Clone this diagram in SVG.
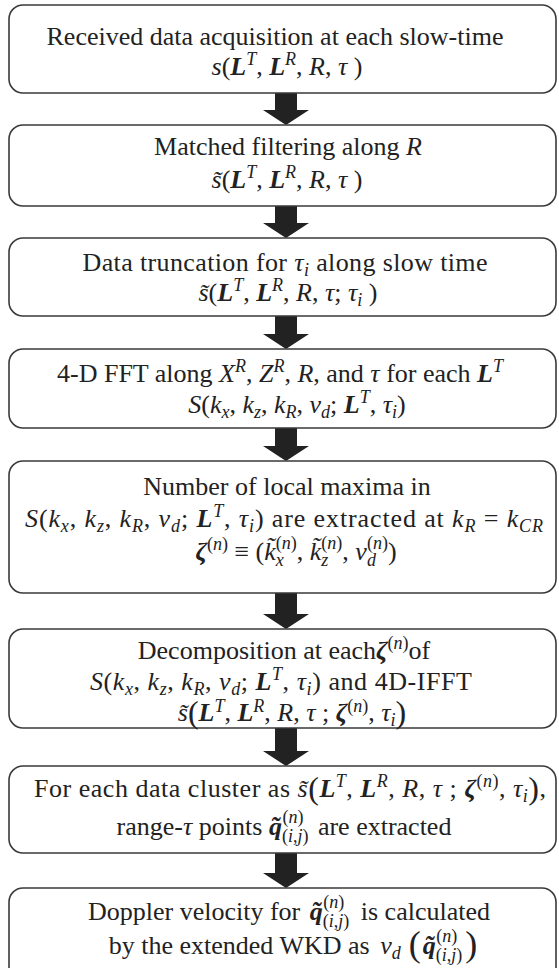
<svg xmlns="http://www.w3.org/2000/svg" width="559" height="968" viewBox="0 0 559 968">
<style>
.box{fill:#fff;stroke:#3a3a3a;stroke-width:1.6}
.t{font-family:"Liberation Serif","Times New Roman",Times,"DejaVu Serif",serif;font-size:26px;fill:#222;text-anchor:middle}
.i{font-style:italic}
.b{font-style:italic;font-weight:bold}
.s{font-size:18px;font-style:italic}
.sn{font-size:18px}
.p{font-size:32px}
.pp{font-size:36px}
.arr{fill:#222}
</style>
<rect width="559" height="968" fill="#fff"/>
<g id="connectors">
<polygon class="arr" points="275,93 297,93 297,110 309,110 286,125 263,110 275,110"/>
<polygon class="arr" points="275,206 297,206 297,223 309,223 286,238 263,223 275,223"/>
<polygon class="arr" points="275,316 297,316 297,334 309,334 286,349 263,334 275,334"/>
<polygon class="arr" points="275,428 297,428 297,446 309,446 286,461 263,446 275,446"/>
<polygon class="arr" points="275,593 297,593 297,614 309,614 286,629 263,614 275,614"/>
<polygon class="arr" points="275,728 297,728 297,751 309,751 286,766 263,751 275,751"/>
<polygon class="arr" points="275,853 297,853 297,873 309,873 286,888 263,873 275,873"/>
</g>
<g font-family="'Liberation Serif','Times New Roman',Times,serif">
<g id="n1">
<rect class="box" x="9" y="5" width="547" height="88" rx="14"/>
<text class="t" x="275" y="45">Received data acquisition at each slow-time</text>
<text class="t" x="287" y="75"><tspan class="i">s</tspan>(<tspan class="b">L</tspan><tspan class="s" dy="-10">T</tspan><tspan dy="10">, </tspan><tspan class="b">L</tspan><tspan class="s" dy="-10">R</tspan><tspan dy="10">, </tspan><tspan class="i">R</tspan>, <tspan class="i">τ</tspan> )</text>
</g>
<g id="n2">
<rect class="box" x="9" y="125" width="547" height="81" rx="14"/>
<text class="t" x="288" y="155">Matched filtering along <tspan class="i">R</tspan></text>
<text class="t" x="287" y="188"><tspan class="i">s̃</tspan>(<tspan class="b">L</tspan><tspan class="s" dy="-10">T</tspan><tspan dy="10">, </tspan><tspan class="b">L</tspan><tspan class="s" dy="-10">R</tspan><tspan dy="10">, </tspan><tspan class="i">R</tspan>, <tspan class="i">τ</tspan> )</text>
</g>
<g id="n3">
<rect class="box" x="9" y="238" width="547" height="78" rx="14"/>
<text class="t" x="285" y="271" textLength="405" lengthAdjust="spacing">Data truncation for <tspan class="i">τ</tspan><tspan class="s" dy="5">i</tspan><tspan dy="-5">  along slow time</tspan></text>
<text class="t" x="288" y="301"><tspan class="i">s̃</tspan>(<tspan class="b">L</tspan><tspan class="s" dy="-10">T</tspan><tspan dy="10">, </tspan><tspan class="b">L</tspan><tspan class="s" dy="-10">R</tspan><tspan dy="10">, </tspan><tspan class="i">R</tspan>, <tspan class="i">τ</tspan>; <tspan class="i">τ</tspan><tspan class="s" dy="5">i</tspan><tspan dy="-5"> )</tspan></text>
</g>
<g id="n4">
<rect class="box" x="9" y="349" width="547" height="79" rx="14"/>
<text class="t" x="280" y="382">4-D FFT along <tspan class="i">X</tspan><tspan class="s" dy="-10">R</tspan><tspan dy="10">, </tspan><tspan class="i">Z</tspan><tspan class="s" dy="-10">R</tspan><tspan dy="10">, </tspan><tspan class="i">R</tspan>, and <tspan class="i">τ</tspan> for each <tspan class="b">L</tspan><tspan class="s" dy="-10">T</tspan></text>
<text class="t" x="297" y="413"><tspan class="i">S</tspan>(<tspan class="i">k</tspan><tspan class="s" dy="5">x</tspan><tspan dy="-5">, </tspan><tspan class="i">k</tspan><tspan class="s" dy="5">z</tspan><tspan dy="-5">, </tspan><tspan class="i">k</tspan><tspan class="s" dy="5">R</tspan><tspan dy="-5">, </tspan><tspan class="i">v</tspan><tspan class="s" dy="5">d</tspan><tspan dy="-5">; </tspan><tspan class="b">L</tspan><tspan class="s" dy="-10">T</tspan><tspan dy="10">, </tspan><tspan class="i">τ</tspan><tspan class="s" dy="5">i</tspan><tspan dy="-5">)</tspan></text>
</g>
<g id="n5">
<rect class="box" x="9" y="461" width="547" height="132" rx="14"/>
<text class="t" x="287" y="495">Number of local maxima in</text>
<text class="t" x="284" y="527" textLength="518" lengthAdjust="spacing"><tspan class="i">S</tspan>(<tspan class="i">k</tspan><tspan class="s" dy="5">x</tspan><tspan dy="-5">, </tspan><tspan class="i">k</tspan><tspan class="s" dy="5">z</tspan><tspan dy="-5">, </tspan><tspan class="i">k</tspan><tspan class="s" dy="5">R</tspan><tspan dy="-5">, </tspan><tspan class="i">v</tspan><tspan class="s" dy="5">d</tspan><tspan dy="-5">; </tspan><tspan class="b">L</tspan><tspan class="s" dy="-10">T</tspan><tspan dy="10">, </tspan><tspan class="i">τ</tspan><tspan class="s" dy="5">i</tspan><tspan dy="-5">) are extracted at </tspan><tspan class="i">k</tspan><tspan class="s" dy="5">R</tspan><tspan dy="-5">  =  </tspan><tspan class="i">k</tspan><tspan class="s" dy="5">CR</tspan></text>
<text class="t" x="296" y="560"><tspan class="b">ζ</tspan><tspan class="sn" dy="-10">(</tspan><tspan class="s">n</tspan><tspan class="sn">)</tspan><tspan dy="10"> ≡ (</tspan><tspan class="i">k̃</tspan><tspan class="s" dy="6">x</tspan><tspan class="sn" dx="-8" dy="-17">(</tspan><tspan class="s">n</tspan><tspan class="sn">)</tspan><tspan dy="11">, </tspan><tspan class="i">k̃</tspan><tspan class="s" dy="6">z</tspan><tspan class="sn" dx="-7" dy="-17">(</tspan><tspan class="s">n</tspan><tspan class="sn">)</tspan><tspan dy="11">, </tspan><tspan class="i">v</tspan><tspan class="s" dy="6">d</tspan><tspan class="sn" dx="-9" dy="-17">(</tspan><tspan class="s">n</tspan><tspan class="sn">)</tspan><tspan dy="11">)</tspan></text>
</g>
<g id="n6">
<rect class="box" x="9" y="629" width="547" height="99" rx="14"/>
<text class="t" x="284" y="659">Decomposition at each<tspan class="b">ζ</tspan><tspan class="sn" dy="-10">(</tspan><tspan class="s">n</tspan><tspan class="sn">)</tspan><tspan dy="10">of</tspan></text>
<text class="t" x="281" y="690" textLength="382" lengthAdjust="spacing"><tspan class="i">S</tspan>(<tspan class="i">k</tspan><tspan class="s" dy="5">x</tspan><tspan dy="-5">, </tspan><tspan class="i">k</tspan><tspan class="s" dy="5">z</tspan><tspan dy="-5">, </tspan><tspan class="i">k</tspan><tspan class="s" dy="5">R</tspan><tspan dy="-5">, </tspan><tspan class="i">v</tspan><tspan class="s" dy="5">d</tspan><tspan dy="-5">; </tspan><tspan class="b">L</tspan><tspan class="s" dy="-10">T</tspan><tspan dy="10">, </tspan><tspan class="i">τ</tspan><tspan class="s" dy="5">i</tspan><tspan dy="-5">) and 4D-IFFT</tspan></text>
<text class="t" x="292" y="721"><tspan class="i">s̃</tspan><tspan class="p" dy="2">(</tspan><tspan class="b" dy="-2">L</tspan><tspan class="s" dy="-9">T</tspan><tspan dy="9">, </tspan><tspan class="b">L</tspan><tspan class="s" dy="-9">R</tspan><tspan dy="9">, </tspan><tspan class="i">R</tspan>, <tspan class="i">τ</tspan> ; <tspan class="b">ζ</tspan><tspan class="sn" dy="-9">(</tspan><tspan class="s">n</tspan><tspan class="sn">)</tspan><tspan dy="9">, </tspan><tspan class="i">τ</tspan><tspan class="s" dy="5">i</tspan><tspan class="p" dy="-3">)</tspan></text>
</g>
<g id="n7">
<rect class="box" x="9" y="766" width="547" height="87" rx="14"/>
<text class="t" x="290" y="797" textLength="512" lengthAdjust="spacing">For each data cluster as <tspan class="i">s̃</tspan><tspan class="p" dy="2">(</tspan><tspan class="b" dy="-2">L</tspan><tspan class="s" dy="-10">T</tspan><tspan dy="10">, </tspan><tspan class="b">L</tspan><tspan class="s" dy="-10">R</tspan><tspan dy="10">, </tspan><tspan class="i">R</tspan>, <tspan class="i">τ</tspan> ; <tspan class="b">ζ</tspan><tspan class="sn" dy="-10">(</tspan><tspan class="s">n</tspan><tspan class="sn">)</tspan><tspan dy="10">, </tspan><tspan class="i">τ</tspan><tspan class="s" dy="5">i</tspan><tspan class="p" dy="-3">)</tspan><tspan dy="-2">,</tspan></text>
<text class="t" x="284" y="835">range-<tspan class="i">τ</tspan> points <tspan class="b">q̃</tspan><tspan class="sn" dy="7">(</tspan><tspan class="s">i</tspan><tspan class="sn">,</tspan><tspan class="s">j</tspan><tspan class="sn">)</tspan><tspan class="sn" dx="-26" dy="-19">(</tspan><tspan class="s">n</tspan><tspan class="sn">)</tspan><tspan dx="8" dy="12"> are extracted</tspan></text>
</g>
<g id="n8">
<rect class="box" x="9" y="888" width="547" height="100" rx="14"/>
<text class="t" x="289" y="920"><tspan>Doppler velocity for </tspan><tspan class="b" dx="3">q̃</tspan><tspan class="sn" dy="7">(</tspan><tspan class="s">i</tspan><tspan class="sn">,</tspan><tspan class="s">j</tspan><tspan class="sn">)</tspan><tspan class="sn" dx="-26" dy="-19">(</tspan><tspan class="s">n</tspan><tspan class="sn">)</tspan><tspan dx="10" dy="12"> is calculated</tspan></text>
<text class="t" x="293" y="954">by the extended WKD as  <tspan class="i" dx="4">v</tspan><tspan class="s" dy="5">d</tspan><tspan class="pp" dx="8" dy="-3">(</tspan><tspan class="b" dx="2" dy="-2">q̃</tspan><tspan class="sn" dy="7">(</tspan><tspan class="s">i</tspan><tspan class="sn">,</tspan><tspan class="s">j</tspan><tspan class="sn">)</tspan><tspan class="sn" dx="-26" dy="-19">(</tspan><tspan class="s">n</tspan><tspan class="sn">)</tspan><tspan class="pp" dx="8" dy="14">)</tspan></text>
</g>
</g>
</svg>
